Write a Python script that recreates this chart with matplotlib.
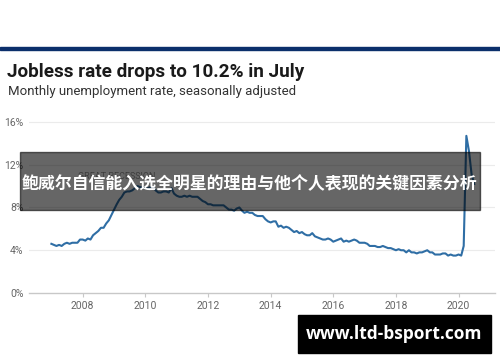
import numpy as np
import pandas as pd
import matplotlib
matplotlib.use("Agg")
import matplotlib.pyplot as plt
import matplotlib.dates as mdates
from matplotlib.patches import Rectangle

# monthly unemployment rate, Jan 2007 - Jul 2020 (%)
rate_2007 = [4.6, 4.5, 4.4, 4.5, 4.4, 4.6, 4.7, 4.6, 4.7, 4.7, 4.7, 5.0]
rate_2008 = [5.0, 4.9, 5.1, 5.0, 5.4, 5.6, 5.8, 6.1, 6.1, 6.5, 6.8, 7.3]
rate_2009 = [7.8, 8.3, 8.7, 9.0, 9.4, 9.5, 9.5, 9.6, 9.8, 10.0, 9.9, 9.9]
rate_2010 = [9.8, 9.8, 9.9, 9.9, 9.6, 9.4, 9.4, 9.5, 9.5, 9.4, 9.8, 9.3]
rate_2011 = [9.1, 9.0, 9.0, 9.1, 9.0, 9.1, 9.0, 9.0, 9.0, 8.8, 8.6, 8.5]
rate_2012 = [8.3, 8.3, 8.2, 8.2, 8.2, 8.2, 8.2, 8.0, 7.8, 7.8, 7.7, 7.9]
rate_2013 = [8.0, 7.7, 7.5, 7.6, 7.5, 7.5, 7.3, 7.2, 7.2, 7.2, 6.9, 6.7]
rate_2014 = [6.6, 6.7, 6.7, 6.2, 6.3, 6.1, 6.2, 6.1, 5.9, 5.7, 5.8, 5.6]
rate_2015 = [5.7, 5.5, 5.4, 5.4, 5.6, 5.3, 5.2, 5.1, 5.0, 5.0, 5.1, 5.0]
rate_2016 = [4.8, 4.9, 5.0, 5.1, 4.8, 4.9, 4.8, 4.9, 5.0, 4.9, 4.7, 4.7]
rate_2017 = [4.7, 4.6, 4.4, 4.4, 4.4, 4.3, 4.3, 4.4, 4.3, 4.2, 4.2, 4.1]
rate_2018 = [4.0, 4.1, 4.0, 4.0, 3.8, 4.0, 3.8, 3.8, 3.7, 3.8, 3.8, 3.9]
rate_2019 = [4.0, 3.8, 3.8, 3.6, 3.6, 3.6, 3.7, 3.7, 3.5, 3.6, 3.5, 3.5]
rate_2020 = [3.6, 3.5, 4.4, 14.7, 13.3, 11.1, 10.2]

rates = (rate_2007 + rate_2008 + rate_2009 + rate_2010 + rate_2011 + rate_2012
         + rate_2013 + rate_2014 + rate_2015 + rate_2016 + rate_2017 + rate_2018
         + rate_2019 + rate_2020)
months = pd.date_range("2007-01-01", periods=len(rates), freq="MS")

y_ticks = [0, 4, 8, 12, 16]
x_years = [2008, 2010, 2012, 2014, 2016, 2018, 2020]

title = "Jobless rate drops to 10.2% in July"
subtitle = "Monthly unemployment rate, seasonally adjusted"
overlay_text = "鲍威尔自信能入选全明星的理由与他个人表现的关键因素分析"
watermark = "www.ltd-bsport.com"

W, H = 500, 362
fig = plt.figure(figsize=(W / 100, H / 100), dpi=100)

# navy rule across the top
fig.patches.append(Rectangle((0, 1 - 50 / H), 1, 3.5 / H, transform=fig.transFigure,
                             color="#0b2f6b", zorder=1))

fig.text(7 / W, 1 - 72 / H, title, fontsize=13.6, fontweight="bold", color="#1a1a1a",
         family="Roboto", va="center", ha="left")
fig.text(8 / W, 1 - 92 / H, subtitle, fontsize=9.55, color="#333333",
         family="Roboto", va="center", ha="left")

ax = fig.add_axes([29 / W, 1 - 293 / H, 466 / W, (293 - 116.6) / H])
ax.plot(months, rates, color="#2f6ea5", lw=1.5, zorder=3)

ax.set_ylim(0, 16.5)
ax.set_xlim(pd.Timestamp("2006-04-15"), pd.Timestamp("2021-03-01"))
ax.set_yticks(y_ticks)
ax.set_yticklabels([f"{v}%" for v in y_ticks])
ax.set_xticks([pd.Timestamp(f"{y}-01-01") for y in x_years])
ax.xaxis.set_major_formatter(mdates.DateFormatter("%Y"))

for v in y_ticks[1:]:
    ax.axhline(v, color="#ebebeb", lw=0.8, zorder=1)
for s in ["top", "right", "left"]:
    ax.spines[s].set_visible(False)
ax.spines["bottom"].set_color("#c8c8c8")
ax.spines["bottom"].set_linewidth(1.0)
ax.tick_params(axis="y", length=0, pad=4, labelsize=7.5, labelcolor="#666666")
ax.tick_params(axis="x", length=3, width=0.8, color="#c8c8c8", pad=3,
               labelsize=7.5, labelcolor="#666666")
for lab in ax.get_xticklabels() + ax.get_yticklabels():
    lab.set_family("Roboto")

ax.text(pd.Timestamp("2009-02-01"), 10.9, "GREAT RECESSION", fontsize=6.5,
        color="#999999", ha="center", va="center", family="Roboto", zorder=2)

# dark overlay banner with headline
fig.patches.append(Rectangle((20 / W, 1 - 210 / H), 460 / W, 58 / H,
                             transform=fig.transFigure, color="black", alpha=0.6,
                             zorder=5))
fig.text(249 / W, 1 - 184 / H, overlay_text, fontsize=12.2, fontweight="bold",
         color="white", ha="center", va="center",
         family=["Noto Sans CJK SC", "DejaVu Sans"], zorder=6)

# watermark box
fig.patches.append(Rectangle((298 / W, 1 - 353 / H), 193 / W, 38 / H,
                             transform=fig.transFigure, color="black", zorder=5))
fig.text(394 / W, 1 - 334 / H, watermark, fontsize=12.5, fontweight="bold",
         color="white", ha="center", va="center", family="Open Sans", zorder=6)

fig.savefig("out.png", dpi=100)
